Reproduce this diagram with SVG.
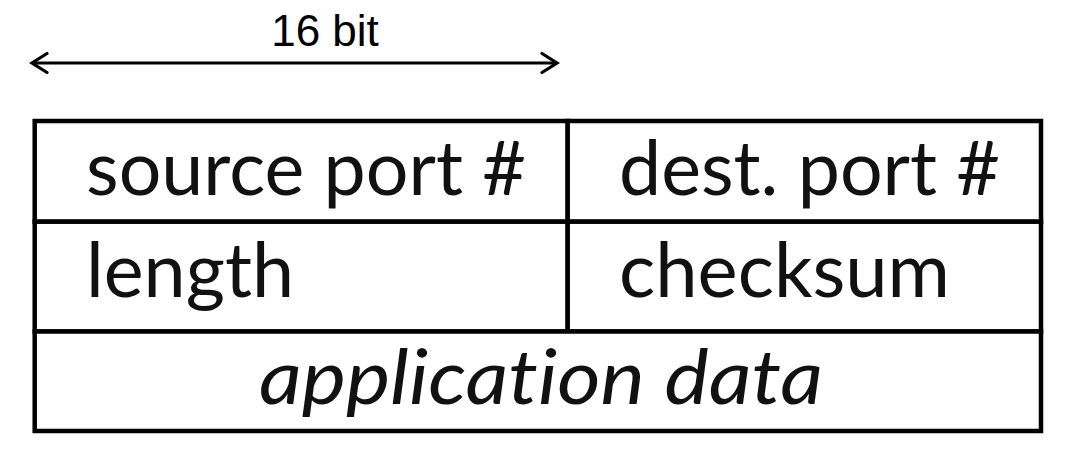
<svg xmlns="http://www.w3.org/2000/svg" width="1078" height="466" viewBox="0 0 1078 466">
<style>
.cell{fill:#fff;stroke:#000;stroke-width:4.5}
.lbl{font-family:Lato,"Open Sans","Liberation Sans",sans-serif;font-size:76px;fill:#111;font-variant-ligatures:none;font-feature-settings:"liga" 0}
.it{font-style:italic}
.dim{font-family:"Liberation Sans",Arial,sans-serif;font-size:44px;fill:#000}
.conn{stroke:#000;stroke-width:2.8;fill:none}
</style>
<defs>
<marker id="ah" markerUnits="userSpaceOnUse" markerWidth="22" markerHeight="26" refX="17" refY="13" orient="auto-start-reverse" viewBox="0 0 22 26">
<path d="M2,3.5 L17,13 L2,22.5" fill="none" stroke="#000" stroke-width="3.2" stroke-linecap="round" stroke-linejoin="miter"/>
</marker>
</defs>
<rect width="1078" height="466" fill="#fff"/>
<g id="dimension">
<text class="dim" x="325" y="46" text-anchor="middle">16 bit</text>
</g>
<g id="connectors">
<line class="conn" x1="32" y1="63" x2="557" y2="63" marker-start="url(#ah)" marker-end="url(#ah)"/>
</g>
<g id="source-port">
<rect class="cell" x="34.7" y="121" width="533" height="100.7"/>
<text class="lbl" x="86" y="195" textLength="440" lengthAdjust="spacingAndGlyphs">source port #</text>
</g>
<g id="dest-port">
<rect class="cell" x="567.7" y="121" width="473.3" height="100.7"/>
<text class="lbl" x="619" y="195" textLength="381" lengthAdjust="spacingAndGlyphs">dest. port #</text>
</g>
<g id="length">
<rect class="cell" x="34.7" y="221.7" width="533" height="109.8"/>
<text class="lbl" x="86" y="297" textLength="208" lengthAdjust="spacingAndGlyphs">length</text>
</g>
<g id="checksum">
<rect class="cell" x="567.7" y="221.7" width="473.3" height="109.8"/>
<text class="lbl" x="619" y="297" textLength="331" lengthAdjust="spacingAndGlyphs">checksum</text>
</g>
<g id="application-data">
<rect class="cell" x="34.7" y="331.5" width="1006.3" height="99.5"/>
<text class="lbl it" x="259" y="404" textLength="564" lengthAdjust="spacingAndGlyphs">application data</text>
</g>
</svg>
